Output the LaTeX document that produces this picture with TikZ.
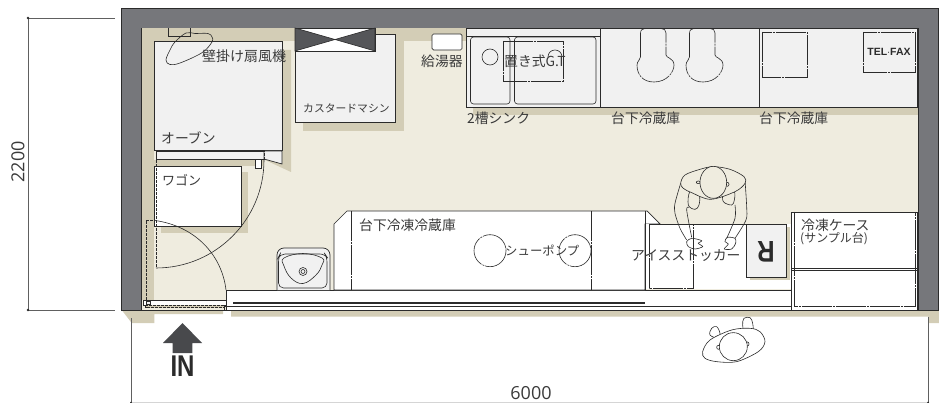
\documentclass[tikz,border=0pt]{standalone}
\usepackage{fontspec}
\setmainfont{Open Sans}
\newfontfamily\jp{Noto Sans CJK JP}
\newfontfamily\bd{Liberation Sans}
\definecolor{wallc}{HTML}{76777B}
\definecolor{floorc}{HTML}{EFECDF}
\definecolor{shadowc}{HTML}{D3CDB6}
\definecolor{unitc}{HTML}{F1F1F1}
\definecolor{ink}{HTML}{2B2B2B}
\definecolor{txt}{HTML}{3A3A3A}
\definecolor{dark}{HTML}{555659}
\tikzset{
  lbl/.style={font=\jp\fontsize{#1}{#1}\selectfont,text=txt,inner sep=0pt,anchor=west},
  lbl/.default=13.8,
  unit/.style={draw=ink,line width=.7pt,fill=unitc},
  white unit/.style={draw=ink,line width=.7pt,fill=white},
  thin line/.style={draw=ink,line width=.6pt},
  dashdot/.style={draw=ink,line width=.6pt,dash pattern=on 30pt off 1pt on 2pt off 1pt},
  doorline/.style={draw=ink,line width=.5pt,dash pattern=on 3pt off 1pt},
  dim/.style={draw=ink!75,line width=.6pt},
  dimtext/.style={font=\fontsize{18}{18}\selectfont,text=txt,inner sep=0pt},
  dimdot/.style={circle,fill=ink,inner sep=0pt,minimum size=2.6pt},
  figure/.style={draw=ink,line width=.6pt},
}
\begin{document}
\begin{tikzpicture}[x=1pt,y=-1pt]
\useasboundingbox (0,0) rectangle (939,403);
% outside shadow
\fill[shadowc] (121.7,310) -- (131.7,323) -- (154.3,323) -- (154.3,314) -- (223,314) -- (223,310) -- cycle;
\fill[shadowc] (231,310) -- (231,316.7) -- (928,316.7) -- (928,323) -- (939,323) -- (939,310) -- cycle;
% wall and floor
\filldraw[fill=wallc,draw=ink,line width=.8pt] (121,8) rectangle (938,310);
\filldraw[fill=floorc,draw=ink,line width=.9pt] (141,28) rectangle (918,310);
% floor shadows
\fill[shadowc] (141.5,28.5) rectangle (466,41);
\fill[shadowc] (141.5,28.5) rectangle (154,300);
\fill[shadowc] (282,50) -- (291,50) -- (291,172) -- (265,160) -- cycle;
\fill[shadowc] (154,160) rectangle (264,166);
\fill[shadowc] (395,41) rectangle (404,131);
\fill[shadowc] (303,122) rectangle (404,131);
\fill[shadowc] (161,226) rectangle (248,233);
\fill[shadowc] (241,172) rectangle (248,233);
\fill[shadowc] (473,107) rectangle (917.5,115);
% oven
\path[unit] (154.5,41) rectangle (282,150);
\path[unit,fill=unitc] (156,151) rectangle (264,159);
\path[unit,fill=white] (255,159) rectangle (261,168);
\path[unit,fill=unitc] (264,151) -- (282,151) -- (282,164) -- (264,159) -- cycle;
% fan
\path[thin line] (168.5,28) -- (168.5,36) -- (190,36) -- (190,28);
\draw[figure] plot[smooth cycle,tension=.6] coordinates {(212,37) (208,33.5) (195,33.5) (186,33) (175,42) (170,50) (166,60) (170,64.5) (180,63) (202,52.7) (212,42)};
% custard machine
\path[unit] (295,34) rectangle (395,122);
\path[unit,fill=white] (295,28) rectangle (375,51);
\filldraw[fill=dark,draw=ink,line width=.6pt] (295,28) -- (335,39.5) -- (295,51) -- cycle;
\filldraw[fill=dark,draw=ink,line width=.6pt] (375,28) -- (335,39.5) -- (375,51) -- cycle;
% water heater
\path[unit,fill=white,rounded corners=1.5pt] (432,34) rectangle (462,50);
% wagon
\path[white unit] (154.5,166) rectangle (241,226);
% sink
\path[unit] (466,28) rectangle (600,107.5);
\path[thin line] (466,36) -- (600,36);
\path[thin line,rounded corners=3pt] (470.5,37) rectangle (510,104);
\path[thin line,rounded corners=3pt] (514.5,37) rectangle (596,104);
\draw[figure] (490,57) circle (8);
\path[dashdot] (503,41) rectangle (563,81);
\path[thin line] (548,57) .. controls (548,53) and (551,50) .. (555,50) .. controls (559,50) and (562,53) .. (562,57);
% undercounter fridges
\path[unit] (600,28) rectangle (759,107.5);
\path[unit] (759,28) rectangle (917.5,107.5);
\foreach \dx in {0,-49}{
  \begin{scope}[xshift=\dx pt]
  \path[dashdot] (689.5,57) -- (689.5,33) .. controls (689.5,29.5) and (692,28.5) .. (695,28.5) -- (710,28.5) .. controls (713,28.5) and (715,30) .. (715,33) -- (715,55) .. controls (715,58) and (723,58) .. (723,65) .. controls (723,72) and (716,82) .. (703,82) .. controls (692,82) and (686,75) .. (686,65) .. controls (686,61) and (689.5,60) .. (689.5,57) -- cycle;
  \end{scope}
}
\path[dashdot] (762,32) rectangle (807,77);
\path[dashdot] (863,32) rectangle (915,72);
% counter
\path[white unit] (226,290) rectangle (791,310);
\fill[white] (660,224.5) rectangle (790.5,289);
\path[thin line] (224,306) rectangle (791,310.5);
\path[draw=ink,line width=1.1pt] (233,303) -- (645,303);
% freezer fridge
\path[white unit] (334,290) -- (334,224) -- (347,211) -- (647,211) -- (660,224) -- (645,224) -- (645,290) -- cycle;
\fill[white] (645.4,224.4) rectangle (660,289);
\path[dashdot] (351.5,211) -- (351.5,290);
\path[dashdot] (591,211) -- (591,290);
\path[dashdot] (490,250.7) circle (16);
\path[dashdot] (575,250.7) circle (16);
% ice stocker region
\path[thin line] (660,224) -- (746,224);
\path[dashdot] (649,224) rectangle (693,288);
\path[thin line] (645,211) -- (645,290);
\fill[shadowc] (750,277) rectangle (790,280);
\fill[shadowc] (786,227) rectangle (790,280);
\path[unit,fill=unitc] (746.5,224) rectangle (786,277);
% freezer case
\path[white unit] (791,212) rectangle (917.5,310);
\path[thin line] (791,268.3) -- (917.5,268.3);
\path[thin line] (791,270.7) -- (917.5,270.7);
\path[dashdot] (794.5,212) -- (794.5,306.7) -- (915,306.7) -- (915,212);
% hand sink
\path[white unit,rounded corners=7pt,fill=unitc] (277,290) -- (277,248) -- (330,248) -- (330,290);
\path[thin line,rounded corners=5pt] (278.5,288) -- (278.5,257) -- (280,254) -- (325,254) -- (327,257) -- (327,288) -- cycle;
\draw[figure] plot[smooth cycle,tension=.7] coordinates {(284,258) (303,253.5) (322,258) (322,265) (316,275) (303,283.5) (291,278) (284,266)};
\draw[figure] (303,271.5) circle (4);
\draw[figure] (303,271.5) circle (2);
% entrance door
\path[doorline] (156,160) -- (156,268);
\path[thin line] (156,268) .. controls (215.6,268) and (264,219.6) .. (264,160);
\path[doorline] (264,160) -- (264,150);
\path[doorline] (146,300) -- (146,220) -- (155,220);
\path[thin line] (155,220.5) .. controls (195,226) and (222,255) .. (226,290);
\path[white unit] (143,300.7) rectangle (226,305);
\path[doorline,fill=shadowc] (145.7,305) rectangle (224,307.7);
\path[thin line,fill=unitc] (146.5,301.5) rectangle (150.5,304.5);
% persons
\begin{scope}[shift={(620,150)},x=.3333pt,y=-.3333pt]
\draw[figure] plot[smooth,tension=.5] coordinates {(182,100) (165,160) (165,190) (180,235) (200,270)};
\draw[figure] plot[smooth,tension=.5] coordinates {(207,172) (200,180) (215,262)};
\draw[figure,fill=floorc] plot[smooth cycle,tension=.6] coordinates {(210,125) (205,165) (225,178) (237,165) (237,135)};
\draw[figure] plot[smooth cycle,tension=.5] coordinates {(200,275) (215,265) (245,272) (235,280) (248,290) (225,297) (205,290)};
\draw[figure] plot[smooth,tension=.5] coordinates {(375,90) (380,170) (378,210) (345,265)};
\draw[figure] plot[smooth,tension=.5] coordinates {(345,165) (345,205) (320,265)};
\draw[figure,fill=floorc] plot[smooth cycle,tension=.6] coordinates {(312,130) (310,155) (335,165) (343,150) (342,125)};
\draw[figure] plot[smooth cycle,tension=.5] coordinates {(345,265) (322,262) (315,275) (325,282) (313,297) (335,297) (347,280)};
\draw[figure,fill=floorc] plot[smooth cycle,tension=.55] coordinates {(182,100) (195,75) (240,58) (280,50) (330,58) (372,80) (375,100) (345,125) (272,148) (215,128) (190,115)};
\draw[figure] (235,97) ellipse [x radius=6,y radius=4];
\draw[figure] (322,103) ellipse [x radius=5,y radius=6];
\draw[figure,fill=floorc] (280,97) ellipse [x radius=40,y radius=48];
% guest
\draw[figure,fill=white] plot[smooth cycle,tension=.6] coordinates {(270,555) (275,535) (290,530) (300,550) (295,565)};
\draw[figure,fill=white] plot[smooth cycle,tension=.6] coordinates {(368,525) (372,505) (390,503) (398,520) (398,550) (375,550)};
\draw[figure,fill=white] plot[smooth cycle,tension=.55] coordinates {(248,605) (270,570) (335,540) (390,535) (420,545) (435,575) (415,605) (350,635) (290,635) (255,625)};
\draw[figure] (295,592) ellipse [x radius=5,y radius=6];
\draw[figure] (382,582) ellipse [x radius=5,y radius=6];
\draw[figure,fill=white] (340,590) circle [radius=42];
\end{scope}
% IN arrow
\fill[dark!85!black] (182.5,323) -- (202,343) -- (192.3,343) -- (192.3,353) -- (172.7,353) -- (172.7,343) -- (163,343) -- cycle;
\node[inner sep=0pt,text=ink] (inlabel) at (182.5,366) {\bd\bfseries\fontsize{30}{30}\selectfont\scalebox{.8}[1]{IN}};
% dimensions
\coordinate (d1a) at (28,18); \coordinate (d1b) at (28,310);
\coordinate (d1c) at (115,18); \coordinate (d1d) at (115,310);
\coordinate (d2a) at (131,402.5); \coordinate (d2b) at (928,402.5);
\coordinate (d2c) at (131,318); \coordinate (d2d) at (928,317);
\path[dim] (d1c) -- (d1a) -- (d1b) -- (d1d);
\path[dim] (d2c) -- (d2a);
\path[dim] (d2d) -- (d2b);
\path[draw=ink!20,line width=.5pt] (d2a) -- (d2b);
\node[dimdot] (dot1) at (d1a) {};
\node[dimdot] (dot2) at (d1b) {};
\node[dimdot,minimum size=2pt] (dot3) at (d2a) {};
\node[dimdot,minimum size=2pt] (dot4) at (d2b) {};
\node[dimtext,rotate=90] (h2200) at (18,162) {2200};
\node[dimtext] (w6000) at (531,393) {6000};
% labels
\node[lbl=14] (fanl) at (202,56) {壁掛け扇風機};
\node[lbl=10.8] (custl) at (303,108.5) {カスタードマシン};
\node[lbl] (ovenl) at (161,138) {オーブン};
\node[lbl=13] (wagonl) at (162,180) {ワゴン};
\node[lbl] (heatl) at (421,61) {給湯器};
\node[lbl] (gtl) at (504,61) {置き式G.T};
\node[lbl] (sinkl) at (467,118) {2槽シンク};
\node[lbl] (fr1l) at (611,118) {台下冷蔵庫};
\node[lbl] (fr2l) at (759,118) {台下冷蔵庫};
\node[lbl] (ffl) at (359,225) {台下冷凍冷蔵庫};
\node[lbl=12.4] (pumpl) at (505,250.5) {シューポンプ};
\node[lbl] (icel) at (631,256) {アイスストッカー};
\node[lbl] (casel) at (801,225) {冷凍ケース};
\node[lbl=12] (samplel) at (800,239) {(サンプル台)};
\node[inner sep=0pt,text=ink] (telfax) at (889,52) {\bd\bfseries\fontsize{10.5}{10.5}\selectfont TEL$\cdot$FAX};
\node[inner sep=0pt,text=ink,rotate=180] (rmark) at (766,252) {\bd\bfseries\fontsize{30}{30}\selectfont\scalebox{.8}[1]{R}};
\end{tikzpicture}
\end{document}
